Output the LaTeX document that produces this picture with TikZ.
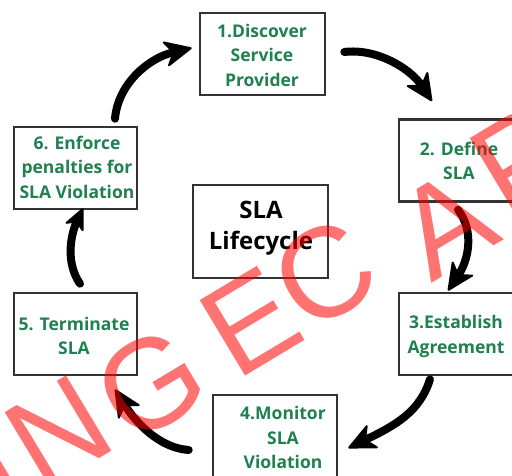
\documentclass[tikz,border=0pt]{standalone}
\usepackage{fontspec}
\setmainfont{Open Sans}
\newfontfamily\markfont{Liberation Sans}
\usetikzlibrary{arrows.meta,calc}
\definecolor{stepgreen}{RGB}{31,128,80}
\definecolor{boxline}{RGB}{51,51,51}
\begin{document}
\begin{tikzpicture}[x=1pt,y=-1pt,
  stagebox/.style={draw=boxline,line width=2.6pt,fill=white,minimum width=123pt,minimum height=82pt,inner sep=0pt},
  stagetext/.style={text=stepgreen,font=\fontsize{17.5}{24.5}\selectfont\bfseries,align=center,inner sep=0pt},
  flow/.style={line width=8pt,line cap=round,-{Stealth[length=30pt,width=28pt,inset=9pt,line width=2pt,round]}},
  smallflow/.style={line width=8pt,line cap=round,-{Stealth[length=24pt,width=22pt,inset=7pt,line width=2pt,round]}},
  markletter/.style={font=\markfont\fontsize{128}{128}\selectfont,text=red,text opacity=0.55,rotate=31,inner sep=0pt},
]
\fill[white] (0,0) rectangle (512,475);
\useasboundingbox (0,0) rectangle (512,475);

% stage boxes
\node[stagebox,minimum width=125pt] (n1) at (262.5,54) {};
\node[stagebox] (n2) at (460.5,160.5) {};
\node[stagebox] (n3) at (460.5,334) {};
\node[stagebox,minimum width=124pt,minimum height=84pt] (n4) at (275,437) {};
\node[stagebox] (n5) at (75.5,334) {};
\node[stagebox] (n6) at (75.5,168) {};
\node[stagebox,minimum width=135pt,minimum height=93pt] (nc) at (260.5,231.5) {};

% stage labels
\node[stagetext] (t1) at (262,55) {1.Discover\\Service\\Provider};
\node[stagetext] (t2) at (459,161) {2. Define\\SLA};
\node[stagetext] (t3) at (456,336.5) {3.Establish\\Agreement};
\node[stagetext] (t4) at (283,437.5) {4.Monitor\\SLA\\Violation};
\node[stagetext] (t5) at (74,336) {5. Terminate\\SLA};
\node[stagetext] (t6) at (77,167) {6. Enforce\\penalties for\\SLA Violation};
\node[text=black,font=\fontsize{24}{31}\selectfont\bfseries,align=center,inner sep=0pt] (tc) at (261,228.5) {SLA\\Lifecycle};

% cycle arrows
\draw[flow] ([shift={(39.5,-7)}]n6.north) .. controls +(3,-35) and +(-43,10) .. ([shift={(-7,-6)}]n1.west);
\draw[flow] ([shift={(18,-2)}]n1.east) .. controls +(32,-4) and +(-22,-33) .. ([shift={(-28.5,-17)}]n2.north);
\draw[flow] ([shift={(-2.5,7)}]n2.south) .. controls +(17,22) and +(20,-30) .. ([shift={(-12.5,-1)}]n3.north);
\draw[flow] ([shift={(-30.5,3)}]n3.south) .. controls +(-10,32) and +(48,-23) .. ([shift={(10,11)}]n4.east);
\draw[flow] ([shift={(-23,13)}]n4.west) .. controls +(-30,-2) and +(20,32) .. ([shift={(39.5,13)}]n5.south);
\draw[smallflow] ([shift={(4.5,-8)}]n5.north) .. controls +(-14,-20) and +(-13,28) .. ([shift={(7.5,-2)}]n6.south);

% watermark letters
\node[markletter] (wm1) at (6,482) {I};
\node[markletter] (wm2) at (58,432) {N};
\node[markletter] (wm3) at (150,384) {G};
\node[markletter] (wm4) at (250,322) {E};
\node[markletter] (wm5) at (324,274) {C};
\node[markletter] (wm6) at (445,224) {A};
\node[markletter] (wm7) at (520,160) {P};
\end{tikzpicture}
\end{document}
